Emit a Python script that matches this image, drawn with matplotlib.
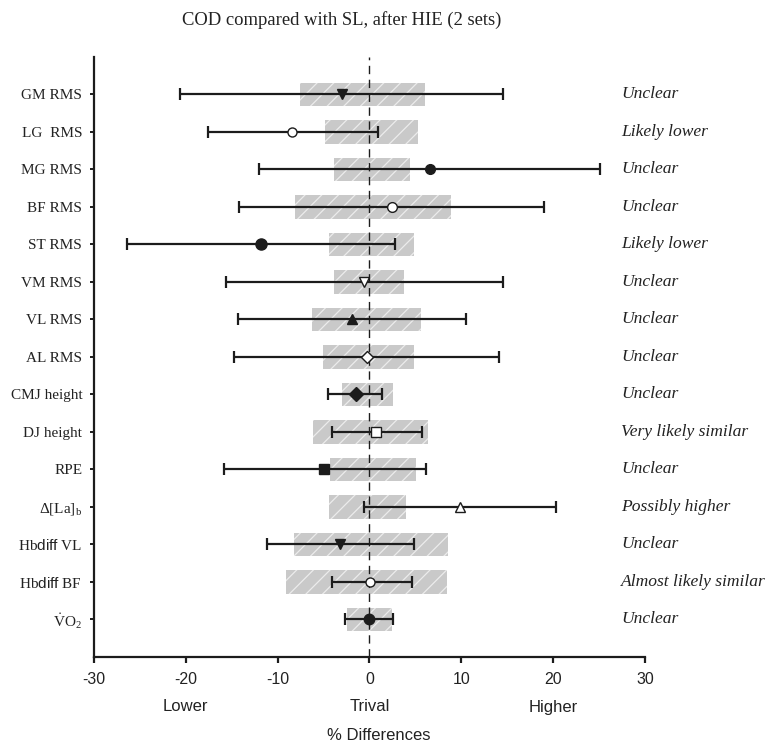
import numpy as np
import matplotlib.pyplot as plt

plt.rcParams['mathtext.fontset'] = 'custom'
plt.rcParams['mathtext.rm'] = 'Liberation Serif'
plt.rcParams['mathtext.it'] = 'Liberation Serif:italic'
plt.rcParams['mathtext.bf'] = 'Liberation Serif:bold'
plt.rcParams['mathtext.sf'] = 'Liberation Sans'

labels = ['GM RMS', 'LG  RMS', 'MG RMS', 'BF RMS', 'ST RMS', 'VM RMS', 'VL RMS',
          'AL RMS', 'CMJ height', 'DJ height', 'RPE', r'$\Delta$[La]$_\mathrm{b}$',
          r'Hb$\mathsf{diff}$ VL', r'Hb$\mathsf{diff}$ BF', r'$\dot{\mathrm{V}}\mathrm{O}_2$']
mean_diff = [-3.0, -8.4, 6.6, 2.4, -11.8, -0.6, -1.9, -0.3, -1.5, 0.7, -4.9, 9.9, -3.2, 0.1, -0.1]
ci_low = [-20.6, -17.6, -12.0, -14.2, -26.4, -15.6, -14.3, -14.7, -4.5, -4.1, -15.8, -0.6, -11.2, -4.1, -2.65]
ci_high = [14.5, 0.95, 25.1, 19.05, 2.8, 14.5, 10.5, 14.1, 1.4, 5.7, 6.2, 20.3, 4.9, 4.6, 2.6]
triv_low = [-7.6, -4.8, -3.9, -8.1, -4.4, -3.9, -6.3, -5.1, -3.0, -6.2, -4.25, -4.4, -8.2, -9.05, -2.4]
triv_high = [6.0, 5.3, 4.4, 8.9, 4.8, 3.8, 5.6, 4.9, 2.6, 6.4, 5.1, 4.0, 8.5, 8.4, 2.5]
verdicts = ['Unclear', 'Likely lower', 'Unclear', 'Unclear', 'Likely lower', 'Unclear',
            'Unclear', 'Unclear', 'Unclear', 'Very likely similar', 'Unclear',
            'Possibly higher', 'Unclear', 'Almost likely similar', 'Unclear']

# marker shape, filled?
markers = ['v', 'o', 'o', 'o', 'o', 'v', '^', 'D', 'D', 's', 's', '^', 'v', 'o', 'o']
filled = [1, 0, 1, 0, 1, 0, 1, 0, 1, 0, 1, 0, 1, 0, 1]
msizes = [7.5, 6.5, 7, 7, 8, 7.5, 7.5, 6.5, 7, 7, 7.5, 7.5, 7.5, 6.5, 7.5]

n = len(labels)
ypos = np.arange(n, 0, -1)
mean_diff = np.array(mean_diff)
ci_low = np.array(ci_low)
ci_high = np.array(ci_high)
triv_low = np.array(triv_low)
triv_high = np.array(triv_high)

ink = '#1c1c1c'
txt = '#222222'
plt.rcParams['hatch.linewidth'] = 0.9

fig = plt.figure(figsize=(7.66, 7.42), dpi=100)
ax = fig.add_axes([0.1227, 0.1146, 0.7193, 0.8086])

ax.barh(ypos, triv_high - triv_low, left=triv_low, height=0.62,
        color='#c9c9c9', edgecolor='#ececec', linewidth=0, hatch='//', zorder=1)

ax.axvline(0, color=ink, lw=1.0, ls=(0, (6, 4)), zorder=2)

ax.errorbar(mean_diff, ypos, xerr=[mean_diff - ci_low, ci_high - mean_diff],
            fmt='none', ecolor=ink, elinewidth=1.6, capsize=4.2, capthick=1.6, zorder=3)

for x, y, m, f, s in zip(mean_diff, ypos, markers, filled, msizes):
    ax.plot(x, y, marker=m, ms=s, mfc=ink if f else 'white', mec=ink, mew=1.0,
            ls='none', zorder=4)

for y, v in zip(ypos, verdicts):
    ax.text(27.4, y, v, ha='left', va='center', fontsize=12.6, style='italic',
            family='Liberation Serif', color=txt, clip_on=False)

ax.set_xlim(-30, 30)
ax.set_ylim(0, 16)
ax.set_xticks([-30, -20, -10, 0, 10, 20, 30])
ax.set_xticklabels(['-30', '-20', '-10', '0', '10', '20', '30'],
                   family='Liberation Sans', fontsize=11.4, color=txt)
ax.set_yticks(ypos)
ax.set_yticklabels(labels, family='Liberation Serif', fontsize=11, color=txt)

for side in ['top', 'right']:
    ax.spines[side].set_visible(False)
for side in ['left', 'bottom']:
    ax.spines[side].set_linewidth(1.6)
    ax.spines[side].set_color(ink)
ax.tick_params(axis='y', length=3, width=1.4, color=ink, pad=5.5)
ax.tick_params(axis='x', length=4.5, width=1.6, color=ink, pad=6)

xt = ax.get_xaxis_transform()
ax.text(-20, -0.083, 'Lower', transform=xt, ha='center', va='center',
        family='Liberation Sans', fontsize=12, color=txt)
ax.text(0, -0.082, 'Trival', transform=xt, ha='center', va='center',
        family='Liberation Sans', fontsize=12, color=txt)
ax.text(20, -0.085, 'Higher', transform=xt, ha='center', va='center',
        family='Liberation Sans', fontsize=12, color=txt)

fig.text(0.4944, 0.0094, '% Differences', ha='center', va='center',
         family='Liberation Sans', fontsize=12, color=txt)
fig.text(0.446, 0.973, 'COD compared with SL, after HIE (2 sets)', ha='center', va='center',
         family='Liberation Serif', fontsize=13.4, color=txt)

fig.savefig('out.png', dpi=100)
